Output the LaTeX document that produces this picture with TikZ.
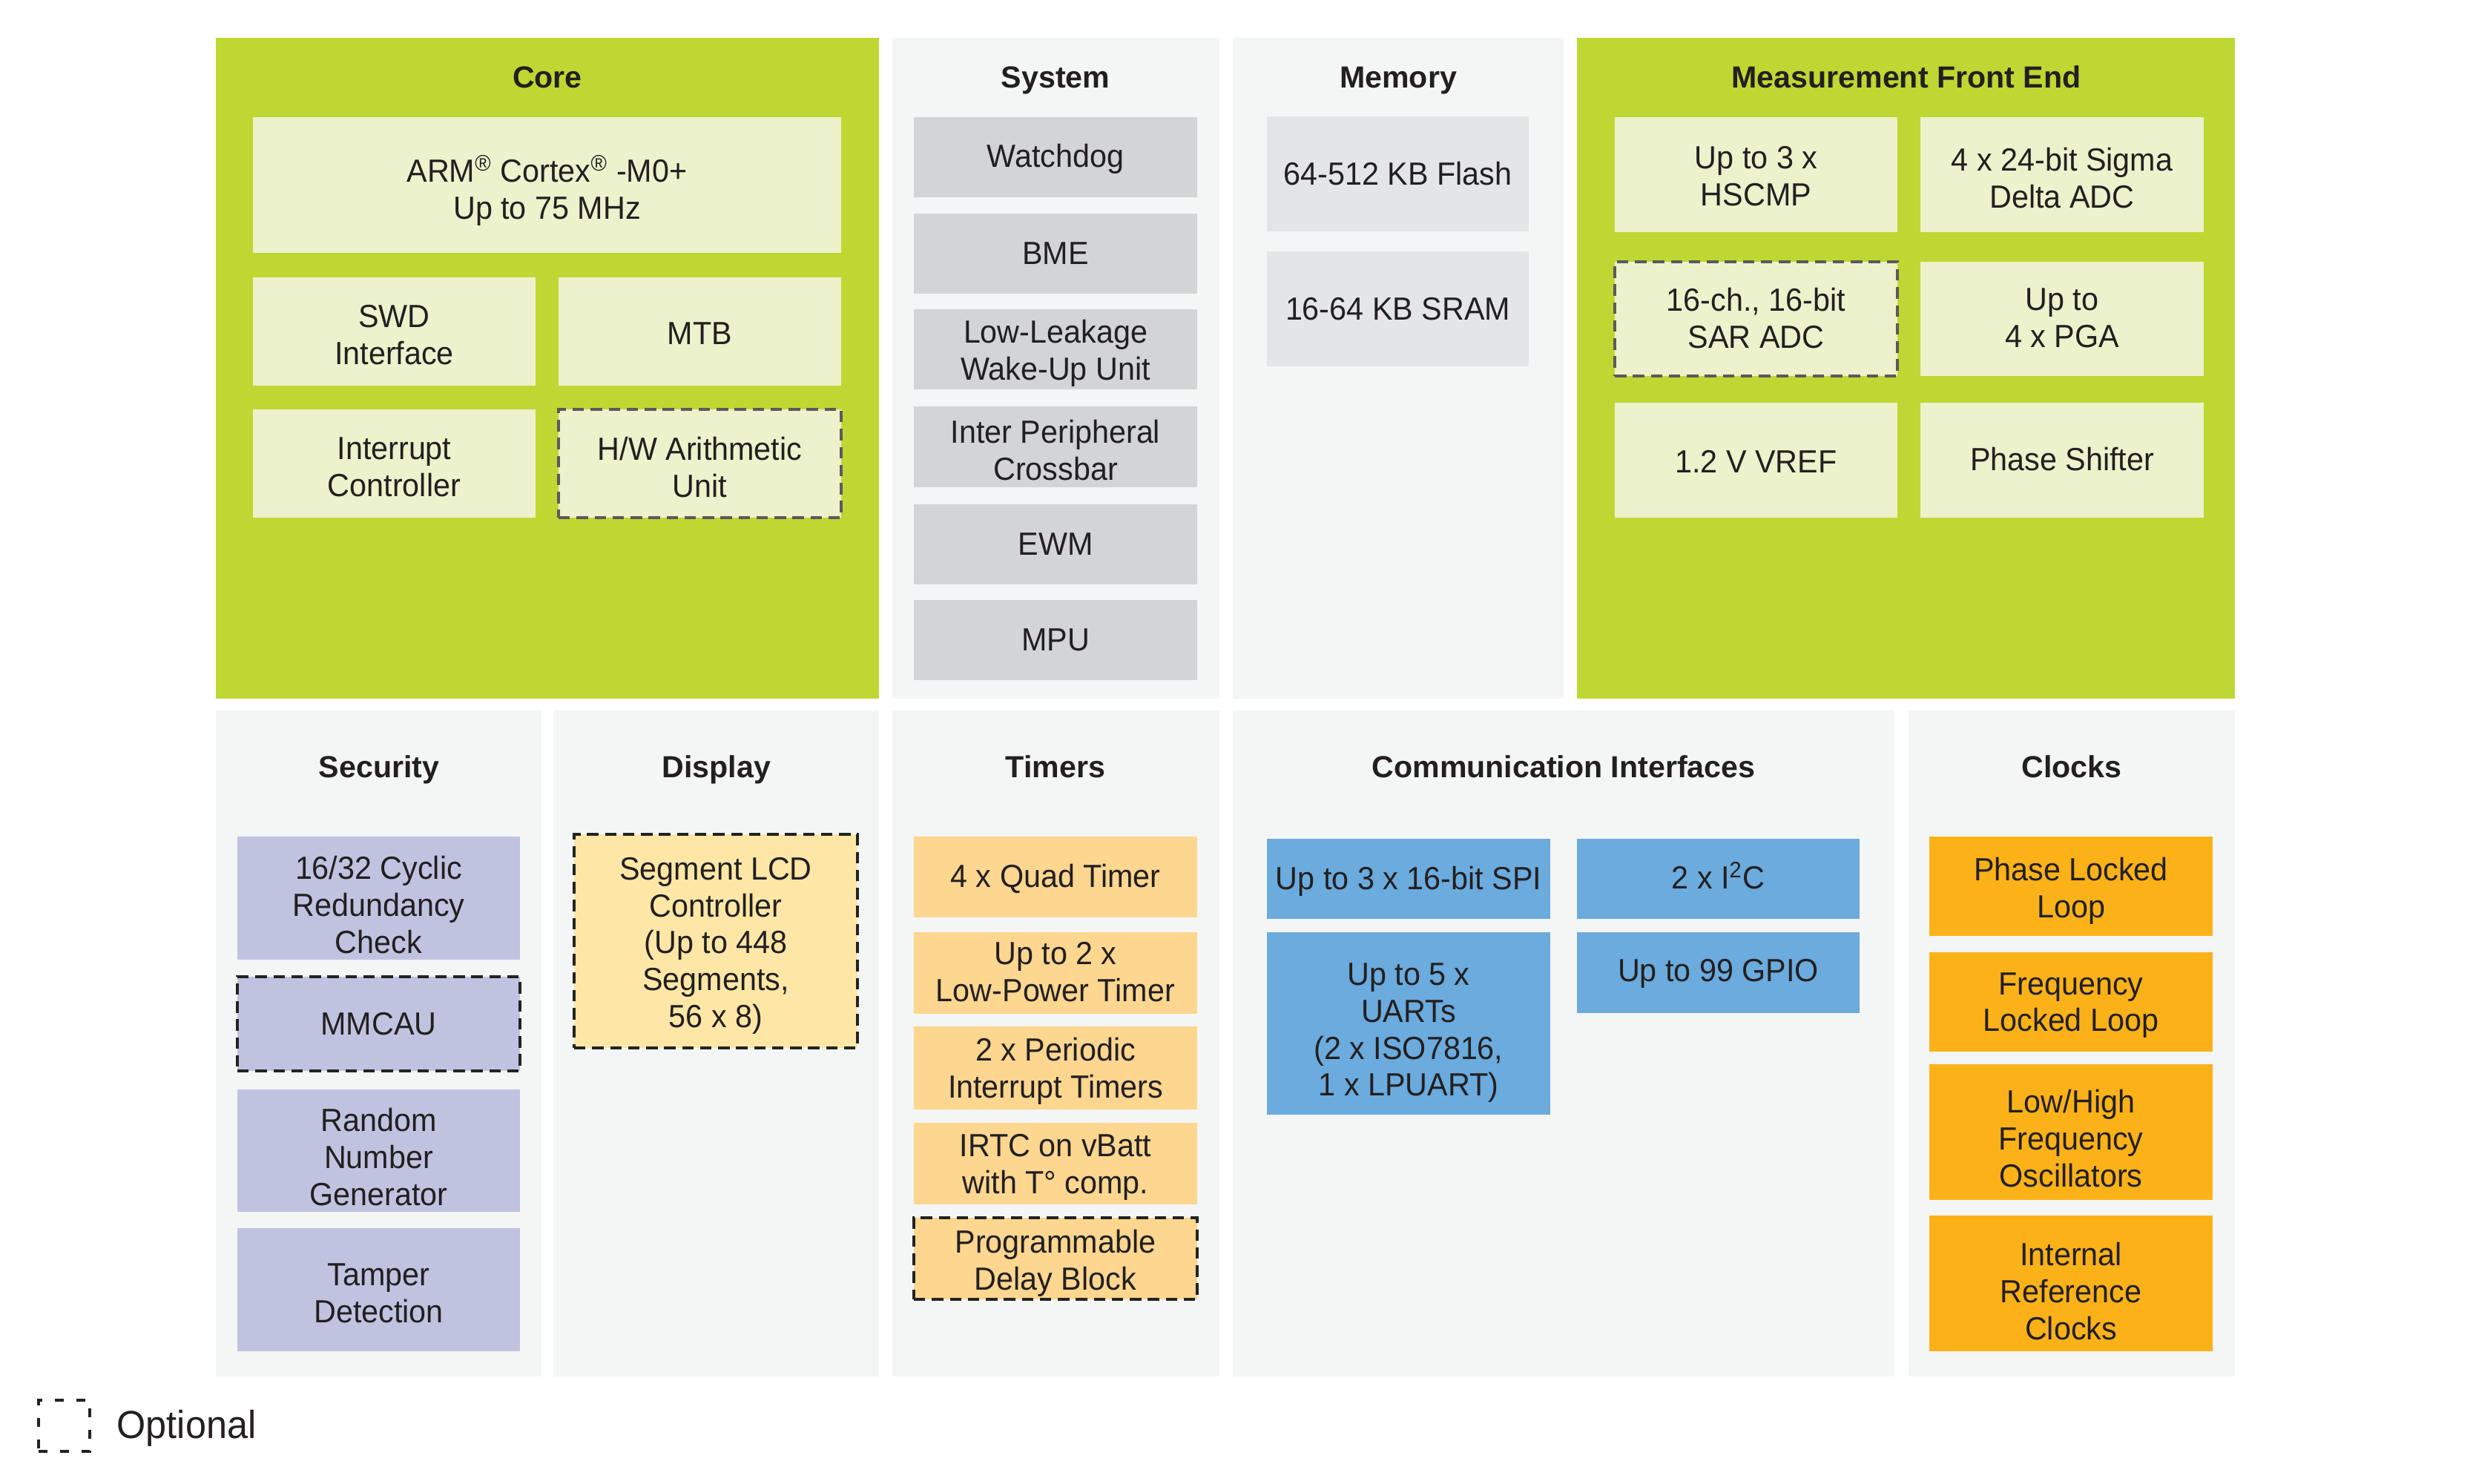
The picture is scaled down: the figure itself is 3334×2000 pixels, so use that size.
\documentclass[tikz,border=0pt]{standalone}
\usepackage{fontspec}
\setmainfont{Liberation Sans}[FakeStretch=0.955]
\newfontfamily\titlefont{Liberation Sans}
\definecolor{cgreen}{RGB}{190,215,50}
\definecolor{cltgreen}{RGB}{235,242,204}
\definecolor{cpanel}{RGB}{244,245,245}
\definecolor{csys}{RGB}{211,212,214}
\definecolor{cmem}{RGB}{228,229,231}
\definecolor{csec}{RGB}{192,195,224}
\definecolor{cdisp}{RGB}{254,231,166}
\definecolor{ctim}{RGB}{253,214,144}
\definecolor{ccomm}{RGB}{107,171,221}
\definecolor{cclk}{RGB}{251,178,25}
\definecolor{ctext}{RGB}{35,31,32}
\definecolor{cdashA}{RGB}{90,90,90}
\definecolor{cdashB}{RGB}{35,35,35}
\newcommand\sups[1]{\smash{\textsuperscript{#1}}}
% \blk[text drop in pt]{name}{style}{x1}{y1}{x2}{y2}{text}
\newcommand\blk[8][1.3]{%
  \node[#3, minimum width={(#6-#4)*0.01cm}, minimum height={(#7-#5)*0.01cm}] (#2) at ({(#4+#6)/2},{(#5+#7)/2}) {};
  \node[boxtext] (#2-t) at ([yshift=-#1pt]#2.center) {#8};}
\tikzset{
  base box/.style={rectangle, inner sep=0pt, outer sep=0pt},
  boxtext/.style={inner sep=0pt, outer sep=0pt, align=center, text=ctext,
    font=\fontsize{12.3}{14.2}\selectfont},
  greenpanel/.style={base box, fill=cgreen},
  graypanel/.style={base box, fill=cpanel},
  corebox/.style={base box, fill=cltgreen},
  sysbox/.style={base box, fill=csys},
  membox/.style={base box, fill=cmem},
  secbox/.style={base box, fill=csec},
  dispbox/.style={base box, fill=cdisp},
  timbox/.style={base box, fill=ctim},
  commbox/.style={base box, fill=ccomm},
  clkbox/.style={base box, fill=cclk},
  optA/.style={draw=cdashA, line width=1pt, dash pattern=on 4.4pt off 2.5pt},
  optB/.style={draw=cdashB, line width=1pt, dash pattern=on 4.4pt off 2.5pt},
  ptitle/.style={anchor=base, inner sep=0pt, text=ctext,
    font=\titlefont\bfseries\fontsize{11.7}{14}\selectfont},
}
\begin{document}
\begin{tikzpicture}[x=0.01cm, y=-0.01cm]
\path[use as bounding box, fill=white] (0,0) rectangle (3334,2000);
% ---------- top row panels
\blk{core}{greenpanel}{291}{51}{1185}{942}{}
\blk{sys}{graypanel}{1203}{51}{1644}{942}{}
\blk{mem}{graypanel}{1662}{51}{2108}{942}{}
\blk{mfe}{greenpanel}{2126}{51}{3013}{942}{}
% ---------- bottom row panels
\blk{sec}{graypanel}{291}{958}{730}{1856}{}
\blk{disp}{graypanel}{746}{958}{1185}{1856}{}
\blk{tim}{graypanel}{1203}{958}{1644}{1856}{}
\blk{comm}{graypanel}{1662}{958}{2554}{1856}{}
\blk{clk}{graypanel}{2573}{958}{3013}{1856}{}
% ---------- titles
\node[ptitle] (tcore) at (738,119) {Core};
\node[ptitle] (tsys) at (1423,119) {System};
\node[ptitle] (tmem) at (1885,119) {Memory};
\node[ptitle] (tmfe) at (2570,119) {Measurement Front End};
\node[ptitle] (tsec) at (511,1048) {Security};
\node[ptitle] (tdisp) at (966,1048) {Display};
\node[ptitle] (ttim) at (1423,1048) {Timers};
\node[ptitle] (tcomm) at (2108,1048) {Communication Interfaces};
\node[ptitle] (tclk) at (2793,1048) {Clocks};
% ---------- Core
\blk[3.0]{arm}{corebox}{341}{158}{1134}{341}{ARM\sups{®} Cortex\sups{®} -M0+\\Up to 75 MHz}
\blk{swd}{corebox}{341}{374}{722}{520}{SWD\\Interface}
\blk[0.8]{mtb}{corebox}{753}{374}{1134}{520}{MTB}
\blk{intc}{corebox}{341}{552}{722}{698}{Interrupt\\Controller}
\blk{hwa}{corebox,optA}{753}{552}{1134}{698}{H/W Arithmetic\\Unit}
% ---------- System
\blk[0.6]{wdog}{sysbox}{1232}{158}{1614}{266}{Watchdog}
\blk[0]{bme}{sysbox}{1232}{288}{1614}{396}{BME}
\blk[1.6]{llwu}{sysbox}{1232}{417}{1614}{525}{Low-Leakage\\Wake-Up Unit}
\blk{xbar}{sysbox}{1232}{548}{1614}{657}{Inter Peripheral\\Crossbar}
\blk[0]{ewm}{sysbox}{1232}{680}{1614}{788}{EWM}
\blk[0]{mpu}{sysbox}{1232}{809}{1614}{917}{MPU}
% ---------- Memory
\blk[0]{flash}{membox}{1708}{157}{2061}{312}{64-512 KB Flash}
\blk[0]{sram}{membox}{1708}{339}{2061}{494}{16-64 KB SRAM}
% ---------- Measurement Front End
\blk[0.7]{hscmp}{corebox}{2177}{158}{2558}{313}{Up to 3 x\\HSCMP}
\blk{sdadc}{corebox}{2589}{158}{2971}{313}{4 x 24-bit Sigma\\Delta ADC}
\blk[-0.3]{sar}{corebox,optA}{2177}{353}{2558}{507}{16-ch., 16-bit\\SAR ADC}
\blk[-0.3]{pga}{corebox}{2589}{353}{2971}{507}{Up to\\4 x PGA}
\blk[0.5]{vref}{corebox}{2177}{543}{2558}{698}{1.2 V VREF}
\blk[-0.4]{phs}{corebox}{2589}{543}{2971}{698}{Phase Shifter}
% ---------- Security
\blk[2.5]{crc}{secbox}{320}{1128}{701}{1294}{16/32 Cyclic\\Redundancy\\Check}
\blk[0]{mmcau}{secbox,optB}{320}{1317}{701}{1444}{MMCAU}
\blk[2.5]{rng}{secbox}{320}{1469}{701}{1634}{Random\\Number\\Generator}
\blk{tamper}{secbox}{320}{1656}{701}{1822}{Tamper\\Detection}
% ---------- Display
\blk[1.8]{lcd}{dispbox,optB}{774}{1125}{1156}{1413}{Segment LCD\\Controller\\(Up to 448\\Segments,\\56 x 8)}
% ---------- Timers
\blk[0.8]{quad}{timbox}{1232}{1128}{1614}{1237}{4 x Quad Timer}
\blk[-0.3]{lptmr}{timbox}{1232}{1257}{1614}{1367}{Up to 2 x\\Low-Power Timer}
\blk{pit}{timbox}{1232}{1384}{1614}{1496}{2 x Periodic\\Interrupt Timers}
\blk{irtc}{timbox}{1232}{1514}{1614}{1624}{IRTC on vBatt\\with T° comp.}
\blk[1.8]{pdb}{timbox,optB}{1232}{1642}{1614}{1752}{Programmable\\Delay Block}
% ---------- Communication Interfaces
\blk[0.8]{spi}{commbox}{1708}{1131}{2090}{1239}{Up to 3 x 16-bit SPI}
\blk[3.6]{uart}{commbox}{1708}{1257}{2090}{1503}{Up to 5 x\\UARTs\\(2 x ISO7816,\\1 x LPUART)}
\blk[-0.3]{i2c}{commbox}{2126}{1131}{2507}{1239}{2 x I\sups{2}C}
\blk[0.4]{gpio}{commbox}{2126}{1257}{2507}{1366}{Up to 99 GPIO}
% ---------- Clocks
\blk[1.8]{pll}{clkbox}{2601}{1128}{2983}{1262}{Phase Locked\\Loop}
\blk{fll}{clkbox}{2601}{1284}{2983}{1418}{Frequency\\Locked Loop}
\blk[2.5]{osc}{clkbox}{2601}{1435}{2983}{1618}{Low/High\\Frequency\\Oscillators}
\blk[3.0]{irc}{clkbox}{2601}{1639}{2983}{1822}{Internal\\Reference\\Clocks}
% ---------- Legend
\blk{legbox}{base box, draw=cdashB, line width=0.95pt, dash pattern=on 3.4pt off 4.8pt}{52}{1888}{121}{1957}{}
\node[anchor=base west, inner sep=0pt, text=ctext, font=\fontsize{15}{17}\selectfont] (legtext) at (157,1939) {Optional};
\end{tikzpicture}
\end{document}
